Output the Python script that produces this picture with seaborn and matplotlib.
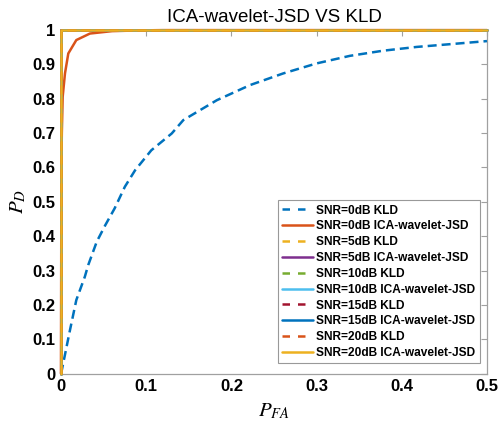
import matplotlib
matplotlib.use("Agg")
import matplotlib.pyplot as plt
import seaborn as sns
import numpy as np
import pandas as pd
from matplotlib.ticker import MultipleLocator

# Data
kld0_pfa = [0.0, 0.001, 0.0106, 0.018, 0.028, 0.032, 0.042, 0.052, 0.063, 0.075, 0.087,
            0.106, 0.130, 0.1436, 0.183, 0.222, 0.261, 0.300, 0.339, 0.378, 0.4175, 0.4566, 0.5]
kld0_pd = [0.0, 0.01, 0.127, 0.214, 0.282, 0.316, 0.384, 0.432, 0.481, 0.544, 0.592,
           0.650, 0.699, 0.738, 0.796, 0.840, 0.874, 0.903, 0.925, 0.940, 0.951, 0.959, 0.968]
ica0_pfa = [0.0, 0.0005, 0.001, 0.002, 0.0047, 0.0086, 0.018, 0.034, 0.06, 0.09, 0.12, 0.5]
ica0_pd = [0.0, 0.6, 0.70, 0.806, 0.874, 0.932, 0.971, 0.990, 0.997, 0.999, 1.0, 1.0]
high_pfa = [0.0, 0.0, 0.5]
high_pd = [0.0, 1.0, 1.0]

labels = ["SNR=0dB KLD", "SNR=0dB ICA-wavelet-JSD", "SNR=5dB KLD", "SNR=5dB ICA-wavelet-JSD",
          "SNR=10dB KLD", "SNR=10dB ICA-wavelet-JSD", "SNR=15dB KLD", "SNR=15dB ICA-wavelet-JSD",
          "SNR=20dB KLD", "SNR=20dB ICA-wavelet-JSD"]
colors = ["#0072BD", "#D95319", "#EDB120", "#7E2F8E", "#77AC30",
          "#4DBEEE", "#A2142F", "#0072BD", "#D95319", "#EDB120"]
series_x = [kld0_pfa, ica0_pfa] + [high_pfa] * 8
series_y = [kld0_pd, ica0_pd] + [high_pd] * 8

sns.set_style("white")
plt.rcParams['font.family'] = ['Liberation Sans', 'DejaVu Sans']
plt.rcParams['mathtext.fontset'] = 'stix'
plt.rcParams['text.color'] = 'black'
plt.rcParams['axes.labelcolor'] = 'black'
plt.rcParams['xtick.color'] = 'black'
plt.rcParams['ytick.color'] = 'black'

fig = plt.figure(figsize=(4.99, 4.24), dpi=100)
ax = fig.add_axes([0.1222, 0.119, 0.8537, 0.810])

for i, (lab, c, xs, ys) in enumerate(zip(labels, colors, series_x, series_y)):
    df = pd.DataFrame({"PFA": xs, "PD": ys})
    dashed = (i % 2 == 0)
    sns.lineplot(data=df, x="PFA", y="PD", ax=ax, estimator=None, sort=False,
                 color=c, lw=1.8, label=lab, clip_on=False, zorder=3,
                 linestyle="--" if dashed else "-")
for ln in ax.get_lines():
    if ln.get_linestyle() == "--":
        ln.set_dashes((3.6, 2.0))

ax.set_xlim(0, 0.5)
ax.set_ylim(0, 1)
ax.xaxis.set_major_locator(MultipleLocator(0.1))
ax.yaxis.set_major_locator(MultipleLocator(0.1))
ax.xaxis.set_major_formatter(matplotlib.ticker.FuncFormatter(lambda v, p: f"{v:g}"))
ax.yaxis.set_major_formatter(matplotlib.ticker.FuncFormatter(lambda v, p: f"{v:g}"))
ax.tick_params(direction="in", length=4, width=0.8, color="#a0a0a0", labelcolor="black",
               top=True, right=True, labelsize=12, pad=4)
for lab in ax.get_xticklabels() + ax.get_yticklabels():
    lab.set_fontweight("bold")
for s in ax.spines.values():
    s.set_color("#a0a0a0")
    s.set_linewidth(0.9)
    s.set_visible(True)

ax.set_xlabel("$P_{FA}$", fontsize=15, labelpad=5)
ax.set_ylabel("$P_D$", fontsize=15, labelpad=3)
ax.set_title("ICA-wavelet-JSD VS KLD", fontsize=13.5, pad=6)

leg = ax.legend(loc="lower right", bbox_to_anchor=(0.983, 0.03), frameon=True, fancybox=False,
                prop={"weight": "bold", "size": 8.6}, handlelength=2.6, labelspacing=0.32,
                borderpad=0.35, handletextpad=0.3, borderaxespad=0.0)
leg.get_frame().set_edgecolor("#808080")
leg.get_frame().set_linewidth(0.8)
leg.set_zorder(5)
for hl in leg.get_lines():
    if hl.get_linestyle() == "--":
        hl.set_dashes((3.0, 3.2))

fig.savefig("out.png", dpi=100)
